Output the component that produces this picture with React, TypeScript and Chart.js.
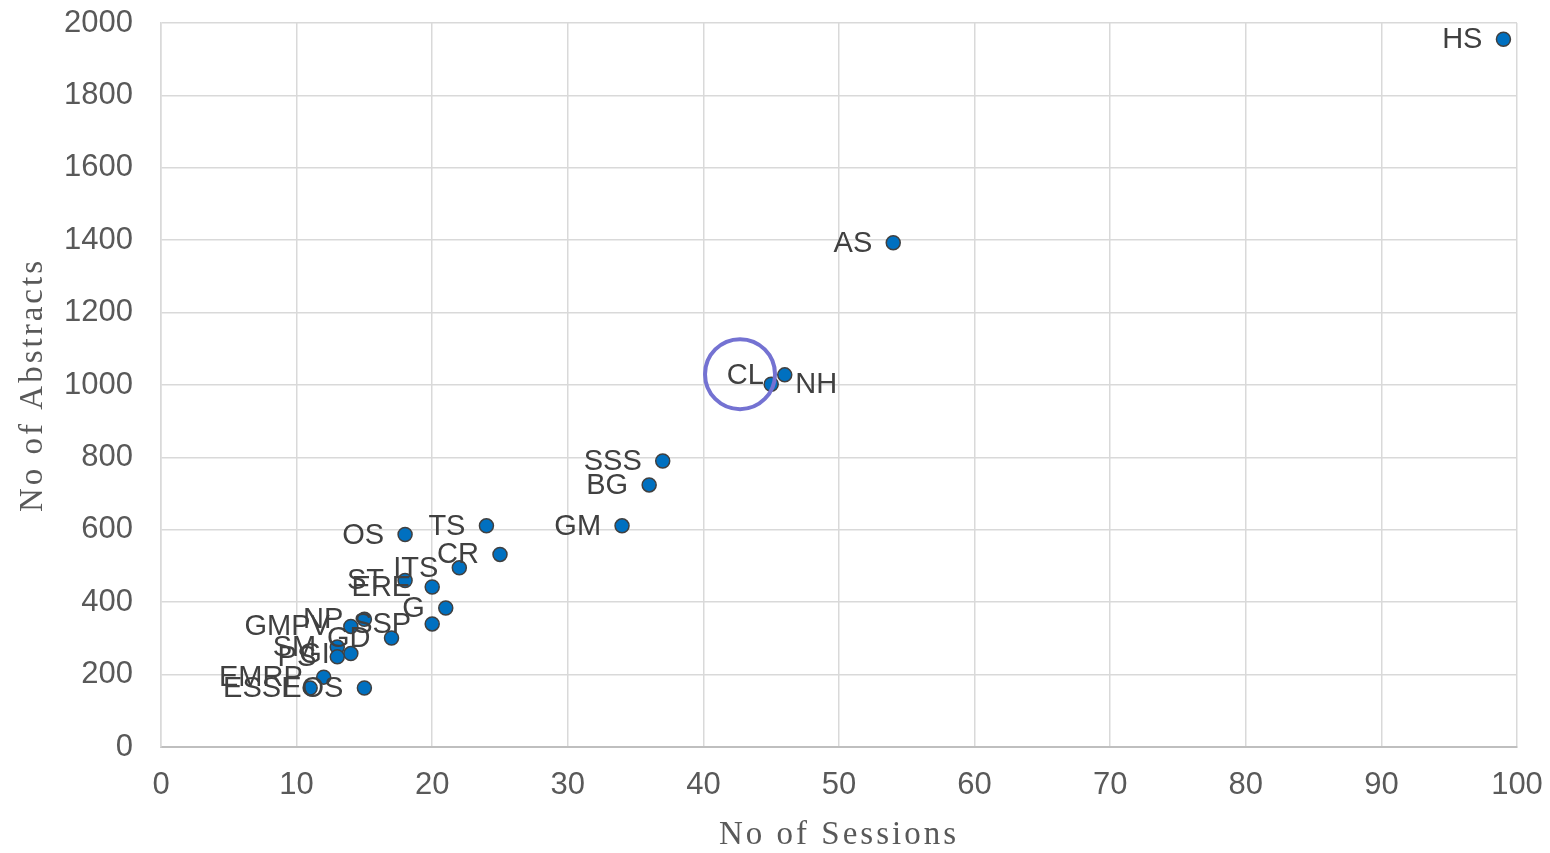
import React, { useEffect, useRef } from "react";
import { Chart, registerables } from "chart.js";

Chart.register(...registerables);

const labels = ["HS", "AS", "CL", "NH", "SSS", "BG", "GM", "TS", "CR", "OS", "ITS", "ST", "ERE", "G", "SSP", "NP", "GMPV", "GD", "SM", "GI", "PS", "EMRP", "ESSI", "EOS"];
const sessions = [99, 54, 46, 45, 37, 36, 34, 24, 25, 18, 22, 18, 20, 21, 20, 15, 14, 17, 13, 14, 13, 12, 11, 15];
const abstracts = [1955, 1393, 1028, 1002, 790, 724, 611, 611, 532, 587, 495, 460, 442, 384, 340, 353, 333, 301, 276, 258, 249, 193, 163, 163];
const labelSide = labels.map((l) => (l === "NH" ? "right" : "left"));

const xTitle = "No of Sessions";
const yTitle = "No of Abstracts";
const highlightCenter = { x: 42.7, y: 1030 };

export default function App() {
  const ref = useRef<HTMLCanvasElement | null>(null);

  useEffect(() => {
    if (!ref.current) return;
    const data = sessions.map((x, i) => ({ x, y: abstracts[i] }));

    const overlay = {
      id: "overlay",
      afterDatasetsDraw(chart: any) {
        const ctx = chart.ctx as CanvasRenderingContext2D;
        const meta = chart.getDatasetMeta(0);
        ctx.save();
        ctx.font = "29px 'Liberation Sans', Arial, sans-serif";
        ctx.fillStyle = "#404040";
        ctx.textBaseline = "middle";
        meta.data.forEach((el: any, i: number) => {
          if (labelSide[i] === "right") {
            ctx.textAlign = "left";
            ctx.fillText(labels[i], el.x + 24, el.y + 1);
          } else {
            ctx.textAlign = "right";
            ctx.fillText(labels[i], el.x - 21, el.y + 1);
          }
        });
        const cx = chart.scales.x.getPixelForValue(highlightCenter.x);
        const cy = chart.scales.y.getPixelForValue(highlightCenter.y);
        ctx.beginPath();
        ctx.arc(cx, cy, 35, 0, Math.PI * 2);
        ctx.strokeStyle = "#7472D2";
        ctx.lineWidth = 4;
        ctx.stroke();
        ctx.restore();
      },
      afterDraw(chart: any) {
        const ctx = chart.ctx as CanvasRenderingContext2D;
        const area = chart.chartArea;
        ctx.save();
        ctx.font = "33px 'Liberation Serif', 'Times New Roman', serif";
        ctx.fillStyle = "#595959";
        (ctx as any).letterSpacing = "3px";
        ctx.textAlign = "center";
        ctx.textBaseline = "middle";
        ctx.fillText(xTitle, (area.left + area.right) / 2, 835);
        ctx.translate(33, (area.top + area.bottom) / 2);
        ctx.rotate(-Math.PI / 2);
        ctx.fillText(yTitle, 0, 0);
        ctx.restore();
      },
    };

    const tickFont = { size: 31, family: "'Liberation Sans', Arial, sans-serif" };

    const chart = new Chart(ref.current, {
      type: "scatter",
      data: {
        datasets: [
          {
            data,
            backgroundColor: "#0070C0",
            borderColor: "#404040",
            borderWidth: 1.5,
            pointRadius: 7,
            pointHoverRadius: 7,
          },
        ],
      },
      options: {
        animation: false,
        responsive: false,
        maintainAspectRatio: false,
        layout: { padding: { top: 23, right: 33, left: 0, bottom: 0 } },
        plugins: { legend: { display: false }, tooltip: { enabled: false } },
        scales: {
          x: {
            type: "linear",
            min: 0,
            max: 100,
            ticks: {
              stepSize: 10,
              color: "#595959",
              font: tickFont,
              padding: 20,
              callback: (v: any) => String(v),
            },
            grid: { color: "#D9D9D9", lineWidth: 1.5, drawTicks: false },
            border: { color: "#BFBFBF", width: 2 },
            afterFit(scale: any) {
              scale.height = 106;
              scale.paddingLeft = 0;
              scale.paddingRight = 0;
            },
          },
          y: {
            type: "linear",
            min: 0,
            max: 2000,
            ticks: {
              stepSize: 200,
              color: "#595959",
              font: tickFont,
              padding: 28,
              callback: (v: any) => String(v),
            },
            grid: { color: "#D9D9D9", lineWidth: 1.5, drawTicks: false },
            border: { color: "#D9D9D9", width: 1.5 },
            afterFit(scale: any) {
              scale.width = 161;
              scale.paddingTop = 0;
              scale.paddingBottom = 0;
            },
          },
        },
      },
      plugins: [overlay],
    });

    return () => chart.destroy();
  }, []);

  return (
    <div style={{ position: "absolute", left: 0, top: 0, width: 1550, height: 853, background: "#ffffff" }}>
      <canvas ref={ref} width={1550} height={853} style={{ width: 1550, height: 853, display: "block" }} />
    </div>
  );
}
